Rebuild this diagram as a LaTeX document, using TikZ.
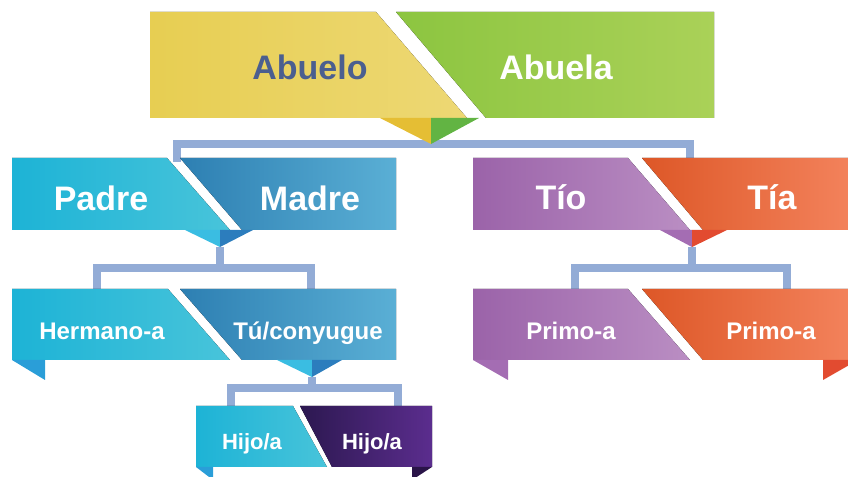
\documentclass[tikz,border=0pt]{standalone}
\usepackage{fontspec}
\setmainfont{Liberation Sans}
\usetikzlibrary{calc}

% colores
\definecolor{linkblue}{HTML}{93ACD6}
\definecolor{abtext}{HTML}{4B5F8F}
\definecolor{yelA}{HTML}{E7CE52}
\definecolor{yelB}{HTML}{EDD874}
\definecolor{yelD}{HTML}{E5BE34}
\definecolor{grnA}{HTML}{8CC540}
\definecolor{grnB}{HTML}{AAD158}
\definecolor{grnD}{HTML}{62B443}
\definecolor{cyaA}{HTML}{1DB3D6}
\definecolor{cyaB}{HTML}{48C4DA}
\definecolor{cyaD}{HTML}{3ABDE2}
\definecolor{azuA}{HTML}{2D7FB2}
\definecolor{azuB}{HTML}{5AAFD5}
\definecolor{azuD}{HTML}{2C7DBD}
\definecolor{fldC}{HTML}{2A9ED8}
\definecolor{morA}{HTML}{9B63A9}
\definecolor{morB}{HTML}{BA8EC3}
\definecolor{morD}{HTML}{A46DB3}
\definecolor{narA}{HTML}{DD5727}
\definecolor{narB}{HTML}{F4845E}
\definecolor{narD}{HTML}{E24B30}
\definecolor{uvaA}{HTML}{2C1850}
\definecolor{uvaB}{HTML}{5B2D8E}
\definecolor{uvaD}{HTML}{2A1448}

\tikzset{
  link/.style={draw=linkblue, line width=2.4mm},
  yel/.style={left color=yelA, right color=yelB},
  grn/.style={left color=grnA, right color=grnB},
  cya/.style={left color=cyaA, right color=cyaB},
  azu/.style={left color=azuA, right color=azuB},
  mor/.style={left color=morA, right color=morB},
  nar/.style={left color=narA, right color=narB},
  uva/.style={left color=uvaA, right color=uvaB},
  big/.style={font=\fontsize{29}{30}\selectfont\bfseries, text=white, anchor=base, inner sep=0pt},
  mid/.style={font=\fontsize{20.5}{22}\selectfont\bfseries, text=white, anchor=base, inner sep=0pt},
  sml/.style={font=\fontsize{18.8}{20}\selectfont\bfseries, text=white, anchor=base, inner sep=0pt}
}

\begin{document}
\begin{tikzpicture}[x=0.3mm, y=-0.3mm]

    \useasboundingbox (0,0) rectangle (848,477);
    \clip (0,0) rectangle (848,477);

    % puntos de las lineas
    \coordinate (j0) at (431,144);
    \coordinate (pm) at (177,162);
    \coordinate (tt) at (690,162);
    \coordinate (a1) at (220,247);
    \coordinate (j1) at (220,268);
    \coordinate (hm) at (97,292);
    \coordinate (tc) at (311,292);
    \coordinate (a2) at (692,247);
    \coordinate (j2) at (692,268);
    \coordinate (p1) at (575,292);
    \coordinate (p2) at (787,292);
    \coordinate (a3) at (312,377);
    \coordinate (j3) at (312,388);
    \coordinate (h1) at (231,408);
    \coordinate (h2) at (398,408);

    % lineas
    \draw[link] (pm) |- (j0) -| (tt);
    \draw[link] (hm) |- (j1) -| (tc);
    \draw[link] (a1) -- (j1);
    \draw[link] (p1) |- (j2) -| (p2);
    \draw[link] (a2) -- (j2);
    \draw[link] (h1) |- (j3) -| (h2);
    \draw[link] (a3) -- (j3);

    % abuelos
    \fill[yel] (150,12) -- (376,12) -- (467,118) -- (150,118) -- cycle;
    \fill[grn] (396,12) -- (714,12) -- (714,118) -- (486,118) -- cycle;
    \fill[yelD] (380,118) -- (431,118) -- (j0) -- cycle;
    \fill[grnD] (431,118) -- (479,118) -- (j0) -- cycle;

    % padres
    \fill[cya] (12,158) -- (167,158) -- (230,230) -- (12,230) -- cycle;
    \fill[azu] (180,158) -- (396,158) -- (396,230) -- (242,230) -- cycle;
    \fill[cyaD] (185,230) -- (220,230) -- (a1) -- cycle;
    \fill[azuD] (220,230) -- (253,230) -- (a1) -- cycle;

    % tios
    \fill[mor] (473,158) -- (628,158) -- (690,230) -- (473,230) -- cycle;
    \fill[nar] (642,158) -- (860,158) -- (860,230) -- (703,230) -- cycle;
    \fill[morD] (660,230) -- (692,230) -- (a2) -- cycle;
    \fill[narD] (692,230) -- (727,230) -- (a2) -- cycle;

    % hermanos
    \fill[cya] (12,289) -- (168,289) -- (230,360) -- (12,360) -- cycle;
    \fill[azu] (180,289) -- (396,289) -- (396,360) -- (242,360) -- cycle;
    \fill[fldC] (12,360) -- (45,360) -- (45,380) -- cycle;
    \fill[cyaD] (277,360) -- (312,360) -- (a3) -- cycle;
    \fill[azuD] (312,360) -- (342,360) -- (a3) -- cycle;

    % primos
    \fill[mor] (473,289) -- (628,289) -- (690,360) -- (473,360) -- cycle;
    \fill[nar] (642,289) -- (860,289) -- (860,360) -- (703,360) -- cycle;
    \fill[morD] (473,360) -- (508,360) -- (508,380) -- cycle;
    \fill[narD] (858,360) -- (823,360) -- (823,380) -- cycle;

    % hijos
    \fill[cya] (196,406) -- (293,406) -- (327,467) -- (196,467) -- cycle;
    \fill[uva] (300,406) -- (432,406) -- (432,467) -- (332,467) -- cycle;
    \fill[fldC] (196,467) -- (213,467) -- (213,480) -- cycle;
    \fill[uvaD] (432,467) -- (412,467) -- (412,480) -- cycle;

    % textos
    \node[big, text=abtext] (abuelo) at (310,80) {Abuelo};
    \node[big] (abuela) at (556,80) {Abuela};
    \node[big] (padre) at (101,211) {Padre};
    \node[big] (madre) at (310,211) {Madre};
    \node[big] (tio) at (561,210) {Tío};
    \node[big] (tia) at (772,210) {Tía};
    \node[mid] (hermano) at (102,340) {Hermano-a};
    \node[mid] (tu) at (308,340) {Tú/conyugue};
    \node[mid] (primo) at (571,340) {Primo-a};
    \node[mid] (prima) at (771,340) {Primo-a};
    \node[sml] (hijo) at (252,450) {Hijo/a};
    \node[sml] (hija) at (372,450) {Hijo/a};

\end{tikzpicture}
\end{document}
